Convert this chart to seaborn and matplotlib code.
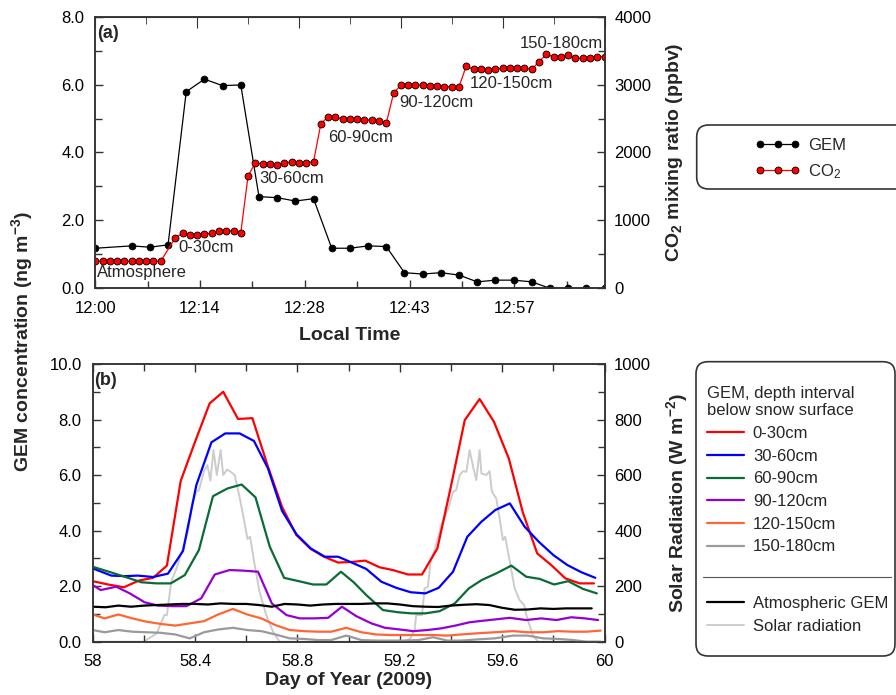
import numpy as np
import matplotlib
matplotlib.use("Agg")
import matplotlib.pyplot as plt
import seaborn as sns
from matplotlib.patches import FancyBboxPatch
from matplotlib.lines import Line2D
from matplotlib.ticker import FixedLocator, MultipleLocator, FormatStrFormatter, FuncFormatter

# ---------------- panel (a): one profile cycle -----------------
gem_minutes = [0, 5, 7.5, 10, 12.5, 15, 17.5, 20, 22.5, 25, 27.5, 30, 32.5, 35,
               37.5, 40, 42.5, 45, 47.5, 50, 52.5, 55, 57.5, 60, 62.5, 65, 67.5, 70]
gem_conc = [1.18, 1.25, 1.21, 1.28, 5.79, 6.16, 5.97, 5.99, 2.70, 2.67, 2.57, 2.64,
            1.18, 1.18, 1.25, 1.23, 0.46, 0.42, 0.46, 0.39, 0.19, 0.24, 0.24, 0.19,
            0.0, 0.0, 0.0, 0.0]

co2_minutes = [0, 1, 2, 3, 4, 5, 6, 7, 8, 9,
               11, 12, 13, 14, 15, 16, 17, 18, 19, 20,
               21, 22, 23, 24, 25, 26, 27, 28, 29, 30,
               31, 32, 33, 34, 35, 36, 37, 38, 39, 40,
               41, 42, 43, 44, 45, 46, 47, 48, 49, 50,
               51, 52, 53, 54, 55, 56, 57, 58, 59, 60,
               61, 62, 63, 64, 65, 66, 67, 68, 69, 70]
co2_ppbv = [400, 400, 400, 400, 400, 400, 400, 400, 400, 400,
            745, 810, 785, 785, 800, 810, 848, 844, 844, 819,
            1654, 1850, 1830, 1825, 1820, 1840, 1865, 1840, 1850, 1865,
            2420, 2527, 2517, 2497, 2488, 2488, 2480, 2479, 2468, 2430,
            2872, 2994, 2994, 2994, 2994, 2985, 2980, 2970, 2970, 2970,
            3274, 3225, 3225, 3215, 3230, 3240, 3245, 3245, 3240, 3225,
            3337, 3446, 3410, 3410, 3436, 3387, 3387, 3387, 3410, 3410]

time_tick_minutes = [0, 14.4, 28.8, 43.2, 57.6]
time_tick_labels = ["12:00", "12:14", "12:28", "12:43", "12:57"]

# (label, minute, ppbv) placement of the inlet-depth annotations
segment_labels = ["Atmosphere", "0-30cm", "30-60cm", "60-90cm",
                  "90-120cm", "120-150cm", "150-180cm"]
segment_label_min = [0.2, 11.4, 22.6, 32.0, 41.8, 51.5, 58.3]
segment_label_ppbv = [230, 608, 1610, 2224, 2733, 3019, 3608]

# ---------------- panel (b): two days of GEM by depth -----------------
day_0_30 = [58.0, 58.06, 58.122, 58.18, 58.236, 58.29, 58.344, 58.40, 58.457, 58.51,
            58.568, 58.624, 58.685, 58.74, 58.796, 58.852, 58.904, 58.959, 59.01, 59.065,
            59.121, 59.173, 59.232, 59.287, 59.347, 59.40, 59.454, 59.512, 59.568, 59.626,
            59.681, 59.737, 59.792, 59.847, 59.903, 59.959]
gem_0_30 = [2.18, 2.06, 1.96, 2.20, 2.30, 2.74, 5.79, 7.20, 8.58, 9.00,
            8.02, 8.05, 6.30, 4.85, 3.84, 3.34, 3.06, 2.85, 2.87, 2.92,
            2.68, 2.58, 2.42, 2.42, 3.36, 5.60, 7.98, 8.74, 7.92, 6.60,
            4.65, 3.18, 2.76, 2.28, 2.10, 2.10]

day_30_60 = [58.0, 58.073, 58.125, 58.177, 58.236, 58.294, 58.353, 58.405, 58.464, 58.518,
             58.574, 58.63, 58.685, 58.74, 58.796, 58.852, 58.907, 58.959, 59.01, 59.069,
             59.128, 59.186, 59.243, 59.30, 59.352, 59.408, 59.464, 59.519, 59.573, 59.63,
             59.688, 59.743, 59.80, 59.855, 59.91, 59.964]
gem_30_60 = [2.64, 2.38, 2.36, 2.38, 2.33, 2.45, 3.27, 5.64, 7.18, 7.50,
             7.50, 7.23, 6.24, 4.71, 3.87, 3.36, 3.06, 3.06, 2.86, 2.62,
             2.16, 1.94, 1.78, 1.74, 1.94, 2.52, 3.78, 4.32, 4.74, 4.98,
             4.14, 3.60, 3.12, 2.76, 2.50, 2.30]

day_60_90 = [58.0, 58.07, 58.138, 58.19, 58.25, 58.305, 58.36, 58.415, 58.47, 58.527,
             58.582, 58.636, 58.692, 58.748, 58.805, 58.861, 58.913, 58.97, 59.02, 59.069,
             59.134, 59.193, 59.245, 59.30, 59.356, 59.415, 59.47, 59.52, 59.577, 59.636,
             59.694, 59.747, 59.803, 59.858, 59.916, 59.97]
gem_60_90 = [2.70, 2.50, 2.30, 2.14, 2.10, 2.10, 2.40, 3.30, 5.24, 5.52,
             5.66, 5.20, 3.42, 2.30, 2.18, 2.06, 2.06, 2.52, 2.14, 1.68,
             1.14, 1.06, 1.02, 1.02, 1.10, 1.38, 1.92, 2.22, 2.46, 2.74,
             2.34, 2.26, 2.06, 2.18, 1.90, 1.74]

day_90_120 = [58.0, 58.031, 58.092, 58.145, 58.203, 58.255, 58.314, 58.366, 58.424, 58.477,
              58.535, 58.587, 58.646, 58.70, 58.757, 58.809, 58.867, 58.92, 58.974, 59.03,
              59.089, 59.143, 59.20, 59.252, 59.308, 59.362, 59.417, 59.473, 59.52, 59.571,
              59.63, 59.694, 59.753, 59.812, 59.87, 59.923, 59.975]
gem_90_120 = [2.04, 1.86, 1.98, 1.74, 1.42, 1.30, 1.28, 1.28, 1.56, 2.42,
              2.58, 2.56, 2.52, 1.38, 0.96, 0.84, 0.84, 0.86, 1.26, 0.92,
              0.66, 0.50, 0.44, 0.38, 0.42, 0.48, 0.58, 0.70, 0.75, 0.80,
              0.86, 0.78, 0.84, 0.78, 0.88, 0.84, 0.78]

day_deep = [58.0, 58.047, 58.10, 58.155, 58.21, 58.266, 58.323, 58.379, 58.435, 58.49,
            58.548, 58.604, 58.659, 58.714, 58.77, 58.826, 58.88, 58.932, 58.991, 59.05,
            59.108, 59.165, 59.219, 59.274, 59.33, 59.386, 59.44, 59.499, 59.571, 59.642,
            59.70, 59.76, 59.818, 59.877, 59.929, 59.985]
gem_120_150 = [0.98, 0.84, 0.98, 0.84, 0.72, 0.64, 0.58, 0.66, 0.74, 0.98,
               1.18, 0.98, 0.84, 0.60, 0.42, 0.38, 0.36, 0.36, 0.50, 0.34,
               0.26, 0.24, 0.24, 0.24, 0.24, 0.22, 0.26, 0.30, 0.34, 0.38,
               0.34, 0.34, 0.38, 0.36, 0.36, 0.40]
gem_150_180 = [0.42, 0.34, 0.42, 0.36, 0.34, 0.32, 0.26, 0.12, 0.34, 0.44,
               0.50, 0.42, 0.38, 0.26, 0.12, 0.10, 0.06, 0.06, 0.22, 0.06,
               0.04, 0.04, 0.04, 0.06, 0.16, 0.04, 0.04, 0.08, 0.12, 0.22,
               0.22, 0.12, 0.10, 0.06, 0.00, 0.00]

day_atm = [58.00, 58.05, 58.10, 58.15, 58.20, 58.25, 58.30, 58.35, 58.40, 58.45,
           58.50, 58.55, 58.60, 58.65, 58.70, 58.75, 58.80, 58.85, 58.90, 58.95,
           59.00, 59.05, 59.10, 59.15, 59.20, 59.25, 59.30, 59.35, 59.40, 59.45,
           59.50, 59.55, 59.60, 59.65, 59.70, 59.75, 59.80, 59.85, 59.90, 59.95]
gem_atm = [1.26, 1.24, 1.30, 1.26, 1.30, 1.32, 1.34, 1.36, 1.36, 1.34,
           1.38, 1.36, 1.36, 1.32, 1.26, 1.36, 1.34, 1.30, 1.34, 1.36,
           1.36, 1.36, 1.38, 1.38, 1.34, 1.28, 1.26, 1.25, 1.30, 1.33,
           1.35, 1.32, 1.22, 1.15, 1.16, 1.20, 1.18, 1.20, 1.20, 1.20]

solar_day = [58.0, 58.20, 58.25, 58.28, 58.29, 58.307, 58.33, 58.35, 58.372, 58.39,
             58.405, 58.415, 58.435, 58.448, 58.46, 58.472, 58.485, 58.50, 58.51, 58.525,
             58.542, 58.555, 58.575, 58.59, 58.605, 58.615, 58.633, 58.652, 58.678, 58.705,
             58.73,
             59.212, 59.24, 59.258, 59.264, 59.287, 59.297, 59.31, 59.32, 59.338, 59.362,
             59.39, 59.408, 59.42, 59.434, 59.447, 59.46, 59.473, 59.488, 59.499, 59.512,
             59.519, 59.538, 59.551, 59.56, 59.577, 59.59, 59.603, 59.612, 59.63, 59.649,
             59.668, 59.686, 59.698, 59.72, 59.74, 60.0]
solar_wm2 = [0, 0, 30, 96, 96, 216, 270, 330, 396, 500,
             540, 545, 614, 636, 580, 690, 600, 690, 600, 620,
             610, 600, 516, 444, 370, 378, 276, 180, 96, 36,
             0,
             0, 10, 42, 96, 96, 192, 198, 288, 336, 420,
             480, 540, 545, 600, 614, 612, 690, 624, 582, 690,
             606, 600, 614, 540, 516, 444, 366, 378, 288, 192,
             150, 132, 84, 24, 0, 0]

depth_labels = ["0-30cm", "30-60cm", "60-90cm", "90-120cm", "120-150cm", "150-180cm"]
depth_colors = ["#ff0000", "#0000ff", "#0b6b35", "#9400d3", "#ff6633", "#9a9a9a"]

# ---------------- style -----------------
sns.set_style("ticks")
plt.rcParams["font.family"] = ["Liberation Sans", "DejaVu Sans"]
plt.rcParams["mathtext.fontset"] = "custom"
plt.rcParams["mathtext.rm"] = "Liberation Sans"
plt.rcParams["mathtext.it"] = "Liberation Sans:italic"
plt.rcParams["mathtext.bf"] = "Liberation Sans:bold"
plt.rcParams["mathtext.default"] = "regular"

FS = 12
SPINE = "#333333"

W, H = 896, 695
fig = plt.figure(figsize=(W / 100, H / 100), dpi=100)


def px_axes(left, top, right, bottom):
    return fig.add_axes([left / W, 1 - bottom / H, (right - left) / W, (bottom - top) / H])


ax_a = px_axes(95.3, 16.7, 604.5, 288.3)
ax_b = px_axes(92.7, 364.0, 604.5, 641.7)


def style_axis(ax):
    for sp in ax.spines.values():
        sp.set_color(SPINE)
        sp.set_linewidth(1.1)
    ax.tick_params(which="both", direction="in", colors=SPINE, labelcolor="black",
                   labelsize=FS, width=1.0)
    ax.tick_params(which="major", length=6)
    ax.tick_params(which="minor", length=5)


# ---- panel (a) ----
sns.lineplot(x=gem_minutes, y=gem_conc, ax=ax_a, color="black", lw=0.9,
             marker="o", ms=5, mfc="black", mec="black", mew=0.5, legend=False)
h_gem = ax_a.lines[-1]
ax_a2 = ax_a.twinx()
sns.lineplot(x=co2_minutes, y=co2_ppbv, ax=ax_a2, color="#ff0000", lw=0.9,
             marker="o", ms=5, mfc="#ff0000", mec="black", mew=0.6, legend=False)
h_co2 = ax_a2.lines[-1]

ax_a.set_xlim(0, 70)
ax_a.set_ylim(0, 8)
ax_a2.set_ylim(0, 4000)
ax_a.xaxis.set_major_locator(FixedLocator(time_tick_minutes))
ax_a.set_xticklabels(time_tick_labels)
ax_a.xaxis.set_minor_locator(FixedLocator([7.2, 21.6, 36.0, 50.4, 64.8]))
ax_a.yaxis.set_major_locator(MultipleLocator(2))
ax_a.yaxis.set_minor_locator(MultipleLocator(1))
ax_a.yaxis.set_major_formatter(FormatStrFormatter("%.1f"))
ax_a2.yaxis.set_major_locator(MultipleLocator(1000))
ax_a2.yaxis.set_minor_locator(MultipleLocator(500))
for ax in (ax_a, ax_a2):
    style_axis(ax)
ax_a.tick_params(axis="x", which="both", top=False, pad=9)
ax_a.tick_params(axis="y", pad=8)
ax_a2.tick_params(axis="y", which="both", pad=7)

top_a = ax_a.secondary_xaxis("top")
top_a.set_xticks([0, 14, 28, 42, 56, 70])
top_a.set_xticks([7, 21, 35, 49, 63], minor=True)
top_a.tick_params(which="both", direction="in", labeltop=False, colors=SPINE)
top_a.tick_params(which="major", length=8)
top_a.tick_params(which="minor", length=5)
top_a.spines["top"].set_color(SPINE)

for text, mx, py in zip(segment_labels, segment_label_min, segment_label_ppbv):
    ax_a2.text(mx, py, text, fontsize=FS, ha="left", va="center")

ax_a.text(0.003, 0.968, "(a)", transform=ax_a.transAxes, fontsize=13,
          fontweight="bold", ha="left", va="top")
ax_a.set_xlabel("Local Time", fontsize=14, fontweight="bold", labelpad=8)
ax_a2.set_ylabel("CO$_2$ mixing ratio (ppbv)", fontsize=14, fontweight="bold", labelpad=9)

# ---- panel (b) ----
ax_b2 = ax_b.twinx()
sns.lineplot(x=solar_day, y=solar_wm2, ax=ax_b2, color="#cccccc", lw=1.4, legend=False)
h_solar = ax_b2.lines[-1]

depth_days = [day_0_30, day_30_60, day_60_90, day_90_120, day_deep, day_deep]
depth_vals = [gem_0_30, gem_30_60, gem_60_90, gem_90_120, gem_120_150, gem_150_180]
depth_handles = []
for days, vals, col in zip(depth_days, depth_vals, depth_colors):
    sns.lineplot(x=days, y=vals, ax=ax_b, color=col, lw=1.6, legend=False)
    depth_handles.append(ax_b.lines[-1])
sns.lineplot(x=day_atm, y=gem_atm, ax=ax_b, color="black", lw=1.6, legend=False)
h_atm = ax_b.lines[-1]

ax_b.set_zorder(ax_b2.get_zorder() + 1)
ax_b.patch.set_visible(False)

ax_b.set_xlim(58, 60)
ax_b.set_ylim(0, 10)
ax_b2.set_ylim(0, 1000)
ax_b.xaxis.set_major_locator(MultipleLocator(0.4))
ax_b.xaxis.set_minor_locator(FixedLocator([58.2, 58.6, 59.0, 59.4, 59.8]))
ax_b.xaxis.set_major_formatter(FuncFormatter(lambda v, p: f"{v:g}"))
ax_b.yaxis.set_major_locator(MultipleLocator(2))
ax_b.yaxis.set_minor_locator(MultipleLocator(1))
ax_b.yaxis.set_major_formatter(FormatStrFormatter("%.1f"))
ax_b2.yaxis.set_major_locator(MultipleLocator(200))
ax_b2.yaxis.set_minor_locator(MultipleLocator(100))
for ax in (ax_b, ax_b2):
    style_axis(ax)
ax_b.tick_params(axis="x", which="both", top=True, pad=9)
ax_b.tick_params(axis="y", pad=8)
ax_b2.tick_params(axis="y", which="both", pad=7)

ax_b.text(0.003, 0.972, "(b)", transform=ax_b.transAxes, fontsize=13,
          fontweight="bold", ha="left", va="top")
ax_b.set_xlabel("Day of Year (2009)", fontsize=14, fontweight="bold", labelpad=2)
ax_b2.set_ylabel("Solar Radiation (W m$^{-2}$)", fontsize=14, fontweight="bold", labelpad=9)

fig.text(22 / W, 1 - 342 / H, "GEM concentration (ng m$^{-3}$)", rotation=90,
         ha="center", va="center", fontsize=14, fontweight="bold")

# ---- legend boxes ----
def rounded_box(left, top, right, bottom):
    box = FancyBboxPatch((left / 100, (H - bottom) / 100), (right - left) / 100,
                         (bottom - top) / 100, boxstyle="round,pad=0,rounding_size=0.12",
                         transform=fig.dpi_scale_trans, fc="none", ec=SPINE, lw=1.2)
    fig.add_artist(box)


rounded_box(696.7, 125, 915, 189)
rounded_box(696.0, 361.7, 895, 656)

fig.legend(handles=[h_gem, h_co2], labels=["GEM", "CO$_2$"], loc="upper left",
           bbox_to_anchor=(755 / W, 1 - 138 / H), frameon=False, numpoints=3,
           handlelength=2.7, handletextpad=0.5, labelspacing=0.53, fontsize=FS,
           borderpad=0, borderaxespad=0)

fig.legend(handles=depth_handles, labels=depth_labels,
           title="GEM, depth interval\nbelow snow surface", alignment="left",
           title_fontsize=FS, fontsize=FS, loc="upper left",
           bbox_to_anchor=(707 / W, 1 - 386 / H), frameon=False,
           handlelength=2.2, handletextpad=0.55, labelspacing=0.46,
           borderpad=0, borderaxespad=0)

fig.add_artist(Line2D([702.7 / W, 891 / W], [1 - 577.3 / H, 1 - 577.3 / H],
                      transform=fig.transFigure, color="#555555", lw=0.8))

fig.legend(handles=[h_atm, h_solar], labels=["Atmospheric GEM", "Solar radiation"],
           loc="upper left", bbox_to_anchor=(707 / W, 1 - 596 / H), frameon=False,
           handlelength=2.2, handletextpad=0.55, labelspacing=0.46, fontsize=FS,
           borderpad=0, borderaxespad=0)

fig.savefig("out.png", dpi=100)
